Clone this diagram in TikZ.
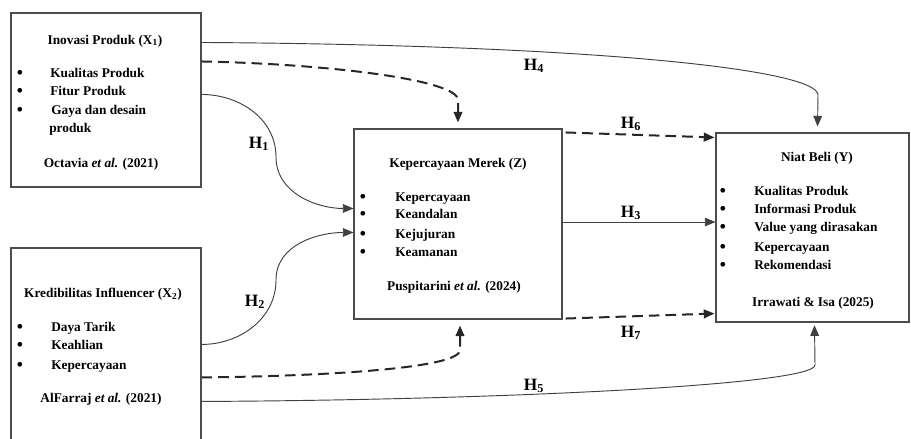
\documentclass[tikz,border=0pt]{standalone}
\usepackage{fontspec}
\setmainfont{Liberation Serif}
\usetikzlibrary{arrows.meta,calc,fit}

\tikzset{
	kotak/.style={draw=black!70, line width=0.8pt, inner sep=0pt},
	judul/.style={font=\fontsize{10}{12}\selectfont\bfseries, inner sep=0pt, anchor=base},
	butir/.style={font=\fontsize{10}{12}\selectfont\bfseries, inner sep=0pt, anchor=base west},
	titik/.style={font=\fontsize{13}{15}\selectfont\bfseries, inner sep=0pt, anchor=base},
	hipo/.style={font=\fontsize{13}{15}\selectfont\bfseries, inner sep=0pt, anchor=base},
	panah/.style={draw=black!75, line width=0.7pt, -{Triangle[length=8pt,width=6.5pt]}},
	putus/.style={draw=black!85, line width=1.5pt, dash pattern=on 8pt off 4.5pt, -{Triangle[length=8pt,width=6.5pt]}},
	jarak/.style={shorten >=4.5pt},
	jarakkecil/.style={shorten >=2pt}
}

\begin{document}
\begin{tikzpicture}[x=0.75pt,y=-0.75pt]
	\useasboundingbox (0,0) rectangle (911,439);
	% kotak variabel
	\node[kotak, fit={(11,13) (201,187)}] (x1) {};
	\node[kotak, fit={(11,248) (201,446)}] (x2) {};
	\node[kotak, fit={(354,129) (562,319)}] (z) {};
	\node[kotak, fit={(716,133) (909,322)}] (y) {};
	% inovasi produk
	\node[judul] (x1judul) at (105,44) {Inovasi Produk (X\textsubscript{1})};
	\node[titik] (x1t1) at (20,78) {\textbullet};
	\node[butir] (x1i1) at (50,77) {Kualitas Produk};
	\node[titik] (x1t2) at (20,96) {\textbullet};
	\node[butir] (x1i2) at (50,95) {Fitur Produk};
	\node[titik] (x1t3) at (20,115) {\textbullet};
	\node[butir] (x1i3) at (51,114) {Gaya dan desain};
	\node[butir] (x1i3b) at (49,132) {produk};
	\node[judul] (x1sumber) at (101,167) {Octavia \textit{et al.} (2021)};
	% kredibilitas influencer
	\node[judul] (x2judul) at (103,297) {Kredibilitas Influencer (X\textsubscript{2})};
	\node[titik] (x2t1) at (20,332) {\textbullet};
	\node[butir] (x2i1) at (51,331) {Daya Tarik};
	\node[titik] (x2t2) at (20,350) {\textbullet};
	\node[butir] (x2i2) at (51,349) {Keahlian};
	\node[titik] (x2t3) at (20,370) {\textbullet};
	\node[butir] (x2i3) at (51,369) {Kepercayaan};
	\node[judul] (x2sumber) at (101,402) {AlFarraj \textit{et al.} (2021)};
	% kepercayaan merek
	\node[judul] (zjudul) at (458,167) {Kepercayaan Merek (Z)};
	\node[titik] (zt1) at (363,202) {\textbullet};
	\node[butir] (zi1) at (395,201) {Kepercayaan};
	\node[titik] (zt2) at (363,219) {\textbullet};
	\node[butir] (zi2) at (395,218) {Keandalan};
	\node[titik] (zt3) at (363,239) {\textbullet};
	\node[butir] (zi3) at (395,238) {Kejujuran};
	\node[titik] (zt4) at (363,257) {\textbullet};
	\node[butir] (zi4) at (395,256) {Keamanan};
	\node[judul] (zsumber) at (454,290) {Puspitarini \textit{et al.} (2024)};
	% niat beli
	\node[judul] (yjudul) at (817,161) {Niat Beli (Y)};
	\node[titik] (yt1) at (723,196) {\textbullet};
	\node[butir] (yi1) at (754,195) {Kualitas Produk};
	\node[titik] (yt2) at (723,214) {\textbullet};
	\node[butir] (yi2) at (754,213) {Informasi Produk};
	\node[titik] (yt3) at (723,232) {\textbullet};
	\node[butir] (yi3) at (754,231) {Value yang dirasakan};
	\node[titik] (yt4) at (723,252) {\textbullet};
	\node[butir] (yi4) at (754,251) {Kepercayaan};
	\node[titik] (yt5) at (723,270) {\textbullet};
	\node[butir] (yi5) at (754,269) {Rekomendasi};
	\node[judul] (ysumber) at (813,306) {Irrawati \& Isa (2025)};
	% hipotesis
	\draw[panah] ($(x1.north east)+(0,82)$) to[out=0,in=90] (276,157) to[out=-90,in=180] ($(z.north west)+(0,80)$);
	\draw[panah] ($(x2.north east)+(0,97)$) to[out=0,in=-90] (276,280) to[out=90,in=180] ($(z.north west)+(0,104)$);
	\draw[panah] ($(z.east)+(0,-2)$) coordinate (h3a) -- (h3a -| y.west);
	\draw[panah, jarak] ($(x1.north east)+(0,30)$) .. controls (600,45) and (818,70) .. (818,95) -- ($(y.north west)+(102,0)$);
	\draw[panah, jarakkecil] ($(x2.north east)+(0,154)$) .. controls (500,400) and (815,385) .. (815,365) -- ($(y.south west)+(99,0)$);
	\draw[putus, jarak] ($(x1.north east)+(0,49)$) .. controls (330,64) and (458,80) .. (458,100) -- (z.north);
	\draw[putus, jarak] ($(x2.north east)+(0,130)$) .. controls (330,376) and (460,368) .. (460,350) -- ($(z.south)+(2,0)$);
	\draw[putus] ($(z.north east)+(3,4)$) -- ($(y.north west)+(-1,5)$);
	\draw[putus] ($(z.south east)+(3,-1)$) -- ($(y.south west)+(-1,-9)$);
	% label
	\node[hipo] (h1) at (259,148) {H\textsubscript{1}};
	\node[hipo] (h2) at (255,306) {H\textsubscript{2}};
	\node[hipo] (h3) at (631,217) {H\textsubscript{3}};
	\node[hipo] (h4) at (534,70) {H\textsubscript{4}};
	\node[hipo] (h5) at (534,390) {H\textsubscript{5}};
	\node[hipo] (h6) at (631,128) {H\textsubscript{6}};
	\node[hipo] (h7) at (631,337) {H\textsubscript{7}};
\end{tikzpicture}
\end{document}
